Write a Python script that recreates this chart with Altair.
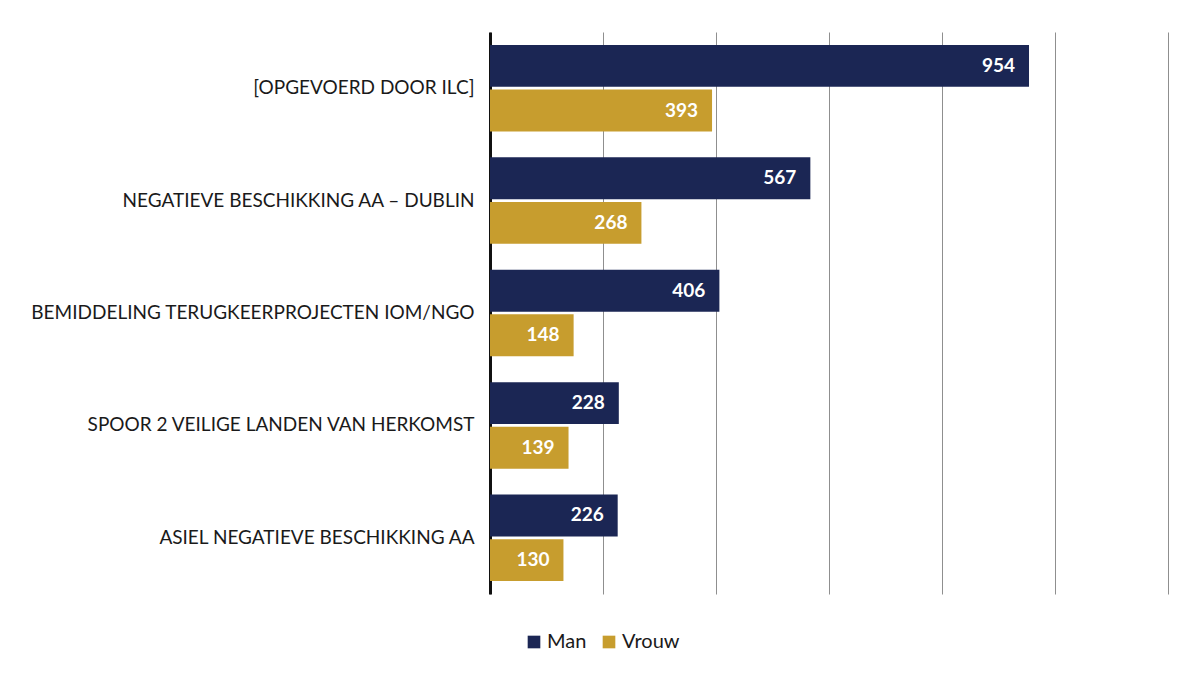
import altair as alt
import pandas as pd

categories = [
    "[OPGEVOERD DOOR ILC]",
    "NEGATIEVE BESCHIKKING AA – DUBLIN",
    "BEMIDDELING TERUGKEERPROJECTEN IOM/NGO",
    "SPOOR 2 VEILIGE LANDEN VAN HERKOMST",
    "ASIEL NEGATIEVE BESCHIKKING AA",
]
series = ["Man", "Vrouw"]
man_values = [954, 567, 406, 228, 226]
vrouw_values = [393, 268, 148, 139, 130]
colors = ["#1b2654", "#c79d2e"]

rows = []
for c, m, v in zip(categories, man_values, vrouw_values):
    rows.append({"cat": c, "serie": "Man", "value": m})
    rows.append({"cat": c, "serie": "Vrouw", "value": v})
df = pd.DataFrame(rows)

FONT = "Lato"

y_enc = alt.Y("cat:N", sort=categories,
              scale=alt.Scale(paddingInner=0.23, paddingOuter=0.115),
              axis=alt.Axis(title=None, labelFontSize=19, labelColor="#1a1a1a",
                            labelFont=FONT, labelPadding=16, ticks=False,
                            domainColor="#111111", domainWidth=3, labelLimit=600))
x_enc = alt.X("value:Q", scale=alt.Scale(domain=[0, 1200], nice=False),
              axis=alt.Axis(title=None, labels=False, ticks=False, domain=False,
                            values=[0, 200, 400, 600, 800, 1000, 1200],
                            grid=True, gridColor="#8f8f8f", gridWidth=1))
yoff = alt.YOffset("serie:N", sort=series, scale=alt.Scale(paddingInner=0.06))

bars = alt.Chart(df).mark_bar().encode(
    y=y_enc,
    x=x_enc,
    yOffset=yoff,
    color=alt.Color("serie:N", sort=series,
                    scale=alt.Scale(domain=series, range=colors),
                    legend=alt.Legend(title=None, orient="none", direction="horizontal",
                                      legendX=34, legendY=600, symbolType="square",
                                      symbolSize=160, symbolStrokeWidth=0,
                                      labelFontSize=20, labelFont=FONT,
                                      labelColor="#1a1a1a", columnPadding=12,
                                      symbolOffset=0, labelOffset=3)),
)

text = alt.Chart(df).mark_text(align="right", baseline="middle", dx=-14,
                               color="white", fontSize=19, fontWeight="bold",
                               font=FONT).encode(
    y=alt.Y("cat:N", sort=categories),
    x="value:Q",
    yOffset=alt.YOffset("serie:N", sort=series),
    text="value:Q",
)

chart = (bars + text).properties(
    width=678, height=562,
    background="#ffffff",
    autosize=alt.AutoSizeParams(type="none"),
    padding={"left": 482, "top": 24, "right": 19, "bottom": 72},
).configure_view(stroke=None, fill="#ffffff")

chart.save("out.html", embed_options={"renderer": "svg", "actions": False})
